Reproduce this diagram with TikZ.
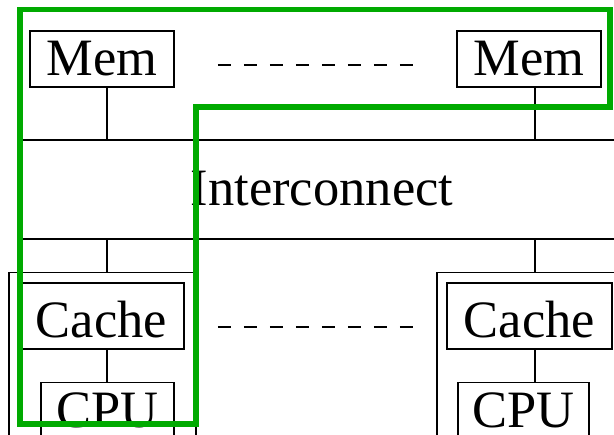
\documentclass[tikz,border=0pt]{standalone}
\usepackage{fontspec}
\setmainfont{Liberation Serif}
\usetikzlibrary{positioning}
\definecolor{pathgreen}{RGB}{0,170,0}
\tikzset{
  unit/.style={draw, line width=1.5pt, inner sep=0pt, font=\fontsize{52.5}{60}\selectfont},
  label/.style={inner sep=0pt, font=\fontsize{52.5}{60}\selectfont},
  wire/.style={line width=1.5pt},
  gap/.style={line width=2.4pt, dash pattern=on 13pt off 13pt},
  route/.style={pathgreen, line width=5.5pt, line join=miter}
}

\begin{document}
\begin{tikzpicture}[x=1pt,y=-1pt]

      \useasboundingbox (0,0) rectangle (614,435);
      \clip (0,0) rectangle (614,435);

      % memories on top
      \node[unit, minimum width=144, minimum height=56] (mem1) at (102,59) {Mem};
      \node[unit, minimum width=144, minimum height=56] (mem2) at (529,59) {Mem};
      \draw[gap] ([xshift=43pt,yshift=-6pt]mem1.east) -- ([xshift=-43pt,yshift=-6pt]mem2.west);

      % the interconnect, only its two long sides show
      \node[label] (ic) at (322,189) {Interconnect};
      \coordinate (busNW) at (20,140);  \coordinate (busNE) at (614,140);
      \coordinate (busSW) at (20,239);  \coordinate (busSE) at (614,239);
      \draw[wire] (busNW) -- (busNE);
      \draw[wire] (busSW) -- (busSE);
      \coordinate (tap1) at (107,140);  \coordinate (tap2) at (535,140);
      \coordinate (drop1) at (107,239); \coordinate (drop2) at (535,239);
      \draw[wire] (mem1.south -| tap1) -- (tap1);
      \draw[wire] (mem2.south -| tap2) -- (tap2);

      % processing elements below
      \node[draw, wire, minimum width=187, minimum height=200, anchor=north west] (pe1) at (8,272) {};
      \node[draw, wire, minimum width=187, minimum height=200, anchor=north west] (pe2) at (436,272) {};
      \draw[wire] (drop1) -- (pe1.north -| drop1);
      \draw[wire] (drop2) -- (pe2.north -| drop2);

      \node[unit, minimum width=165, minimum height=66, text height=44pt] (cache1) at (101.5,316) {Cache};
      \node[unit, minimum width=165, minimum height=66, text height=44pt] (cache2) at (529.5,316) {Cache};
      \draw[gap] ([xshift=33pt,yshift=-11pt]cache1.east) -- ([xshift=-33pt,yshift=-11pt]cache2.west);

      \node[unit, minimum width=133, inner ysep=10pt, text depth=30pt, anchor=north] (cpu1) at (107.5,382) {CPU};
      \node[unit, minimum width=131, inner ysep=10pt, text depth=30pt, anchor=north] (cpu2) at (523.5,382) {CPU};
      \draw[wire] (cache1.south -| drop1) -- (cpu1.north -| drop1);
      \draw[wire] (cache2.south -| drop2) -- (cpu2.north -| drop2);

      % green outline round the shared path
      \draw[route] (20,9.5) -- (610,9.5) -- (610,107) -- (196,107) -- (196,424) -- (20,424) -- cycle;

\end{tikzpicture}
\end{document}
